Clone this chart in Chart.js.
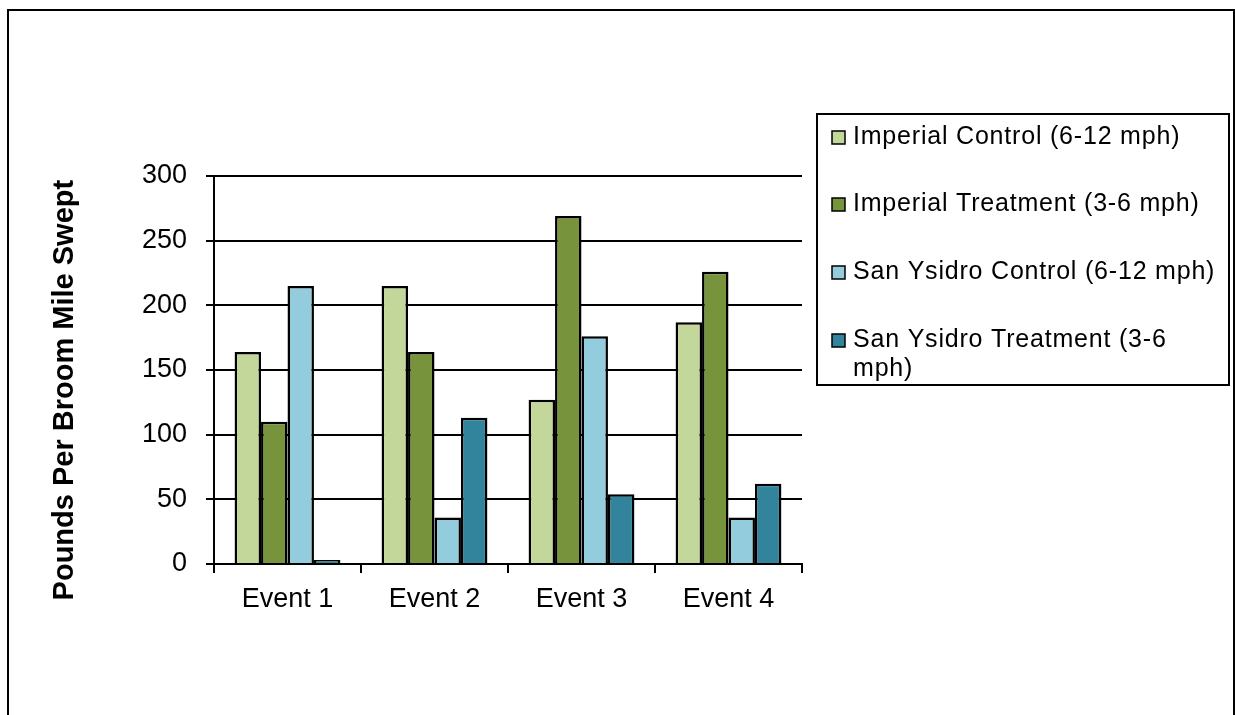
<!DOCTYPE html>
<html>
<head>
<meta charset="utf-8">
<script src="https://cdn.jsdelivr.net/npm/chart.js@4/dist/chart.umd.min.js"></script>
<style>
    html, body { margin: 0; padding: 0; background: #fff; overflow: hidden; }
    #frame { position: absolute; left: 7px; top: 9px; width: 1228px; height: 730px; border: 2px solid #000; box-sizing: border-box; }
    #wrap { position: absolute; left: 0; top: 0; width: 1235px; height: 715px; }
</style>
</head>
<body>
<div id="frame"></div>
<div id="wrap"><canvas id="sweepChart" width="1235" height="715"></canvas></div>
<script>
// -- Data --
const categories = ['Event 1', 'Event 2', 'Event 3', 'Event 4'];
const seriesNames = [
    'Imperial Control (6-12 mph)',
    'Imperial Treatment (3-6 mph)',
    'San Ysidro Control (6-12 mph)',
    'San Ysidro Treatment (3-6 mph)'
];
const imperialControl = [164, 215, 127, 187];
const imperialTreatment = [110, 164, 269, 226];
const sanYsidroControl = [215, 36, 176, 36];
const sanYsidroTreatment = [3, 113, 54, 62];
const seriesColors = ['#c4d79b', '#77933c', '#93cddd', '#31849b'];
const yTicks = [0, 50, 100, 150, 200, 250, 300];
const yTitle = 'Pounds Per Broom Mile Swept';

const FONT = '"Liberation Sans", Arial, sans-serif';

// -- Legend drawn in its own box on the right --
const boxLegend = {
    id: 'boxLegend',
    afterDraw(chart) {
        const ctx = chart.ctx;
        const box = { left: 817, top: 114, right: 1229, bottom: 385 };
        const rows = [137, 204, 272, 340]; // middle of first text line per item
        const lineGap = 29;
        const textX = 853;
        const maxWidth = box.right - textX - 8;

        ctx.save();
        ctx.strokeStyle = '#000';
        ctx.lineWidth = 2;
        ctx.strokeRect(box.left, box.top, box.right - box.left, box.bottom - box.top);

        ctx.font = '25px ' + FONT;
        ctx.letterSpacing = '0.8px';
        ctx.textBaseline = 'middle';
        ctx.textAlign = 'left';

        chart.data.datasets.forEach((ds, i) => {
            const y = rows[i];
            ctx.fillStyle = ds.backgroundColor;
            ctx.fillRect(832, y - 6, 13, 13);
            ctx.lineWidth = 1.5;
            ctx.strokeStyle = '#000';
            ctx.strokeRect(832, y - 6, 13, 13);

            // simple word wrap
            const words = ds.label.split(' ');
            const lines = [];
            let line = '';
            words.forEach(w => {
                const test = line ? line + ' ' + w : w;
                if (line && ctx.measureText(test).width > maxWidth) {
                    lines.push(line);
                    line = w;
                } else {
                    line = test;
                }
            });
            lines.push(line);

            ctx.fillStyle = '#000';
            lines.forEach((l, k) => ctx.fillText(l, textX, y + k * lineGap));
        });
        ctx.restore();
    }
};

const datasets = [imperialControl, imperialTreatment, sanYsidroControl, sanYsidroTreatment].map((vals, i) => ({
    label: seriesNames[i],
    data: vals,
    backgroundColor: seriesColors[i],
    borderColor: '#000',
    borderWidth: 2.5,
    borderSkipped: 'bottom',
    categoryPercentage: 0.72,
    barPercentage: 1.0
}));

const ctx = document.getElementById('sweepChart').getContext('2d');
const chartInstance = new Chart(ctx, {
    type: 'bar',
    data: { labels: categories, datasets: datasets },
    options: {
        responsive: false,
        animation: false,
        devicePixelRatio: 1,
        layout: { padding: { left: 48, right: 433, top: 176, bottom: 100 } },
        plugins: {
            legend: { display: false },
            tooltip: { enabled: false }
        },
        scales: {
            x: {
                offset: true,
                grid: {
                    offset: true,
                    drawOnChartArea: false,
                    color: '#000',
                    lineWidth: 2,
                    tickLength: 9
                },
                border: { color: '#000', width: 2 },
                ticks: {
                    color: '#000',
                    padding: 10,
                    font: { family: FONT, size: 27 }
                },
                afterFit: (scale) => { scale.height = 51; }
            },
            y: {
                min: 0,
                max: 300,
                afterBuildTicks: (scale) => { scale.ticks = yTicks.map(v => ({ value: v })); },
                grid: {
                    color: '#000',
                    lineWidth: 2,
                    tickLength: 8
                },
                border: { color: '#000', width: 2 },
                ticks: {
                    color: '#000',
                    padding: 19,
                    font: { family: FONT, size: 27 }
                },
                title: {
                    display: true,
                    // trailing spaces nudge the centred title a little lower, as in the original
                    text: yTitle + '     ',
                    color: '#000',
                    padding: { top: 0, bottom: 0 },
                    font: { family: FONT, size: 29, weight: 'bold', lineHeight: 1.2 }
                },
                afterFit: (scale) => { scale.width = 166; }
            }
        }
    },
    plugins: [boxLegend]
});
</script>
</body>
</html>
